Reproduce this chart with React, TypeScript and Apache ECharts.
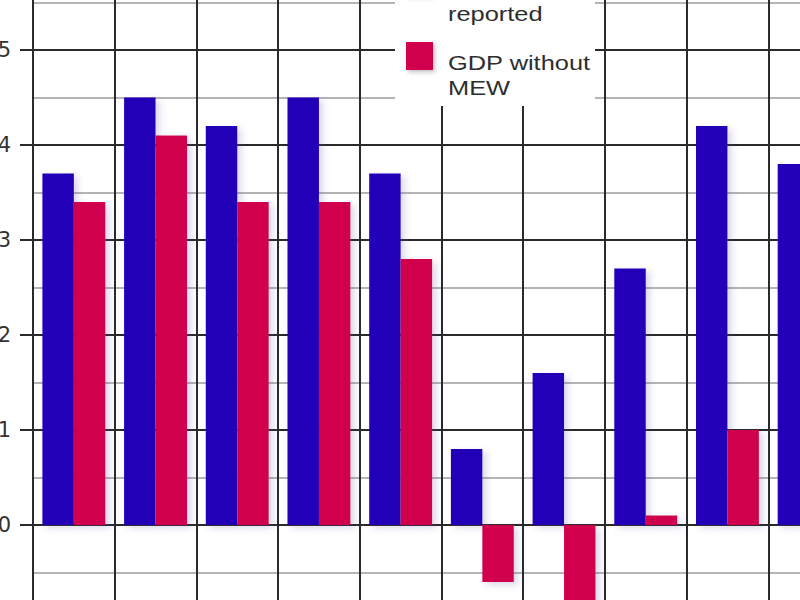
import React, { useEffect, useRef } from 'react';
import * as echarts from 'echarts';

const categories = ['1996', '1997', '1998', '1999', '2000', '2001', '2002', '2003', '2004', '2005'];
const gdpReported = [3.7, 4.5, 4.2, 4.5, 3.7, 0.8, 1.6, 2.7, 4.2, 3.8];
const gdpWithoutMew = [3.4, 4.1, 3.4, 3.4, 2.8, -0.6, -0.9, 0.1, 1.0, null];
const seriesNames = ['GDP as reported', 'GDP without MEW'];
const legendLines = [['GDP as', 'reported'], ['GDP without', 'MEW']];
const seriesColors = ['#2400b8', '#d0064e'];
const yMin = -1;
const yMax = 6;

export default function App() {
  const ref = useRef<HTMLDivElement>(null);
  useEffect(() => {
    if (!ref.current) return;
    const chart = echarts.init(ref.current, undefined, { renderer: 'svg' });
    const font = 'Liberation Sans, Arial, sans-serif';
    const barStyle = (color: string) => ({
      color,
      shadowColor: 'rgba(90,70,160,0.22)',
      shadowBlur: 6,
      shadowOffsetX: 4,
      shadowOffsetY: 3,
    });
    const legendGraphics: any[] = [
      { type: 'rect', shape: { x: 395, y: -10, width: 200, height: 116 }, style: { fill: '#ffffff' }, z: 10 },
    ];
    const itemTops = [-32, 42];
    const textTops = [-23, 51];
    legendLines.forEach((lines, i) => {
      legendGraphics.push({
        type: 'rect',
        shape: { x: 406, y: itemTops[i], width: 27, height: 28 },
        style: { fill: seriesColors[i], shadowColor: 'rgba(0,0,0,0.25)', shadowBlur: 4, shadowOffsetX: 2, shadowOffsetY: 2 },
        z: 11,
      });
      legendGraphics.push({
        type: 'text',
        x: 448,
        y: textTops[i],
        scaleX: 1.27,
        style: {
          text: lines.join('\n'),
          fill: '#2e2e2e',
          font: `20px ${font}`,
          lineHeight: 25,
          verticalAlign: 'top',
          align: 'left',
        },
        z: 11,
      });
    });
    chart.setOption({
      animation: false,
      backgroundColor: '#ffffff',
      grid: {
        left: 33,
        top: -45,
        width: 817,
        height: 665,
        containLabel: false,
        outerBoundsMode: 'none',
      },
      xAxis: {
        type: 'category',
        data: categories,
        axisLine: { show: false, onZero: false },
        axisTick: { show: false },
        axisLabel: { show: false },
        splitLine: { show: true, lineStyle: { color: '#2a2a2a', width: 2 } },
      },
      yAxis: {
        type: 'value',
        min: yMin,
        max: yMax,
        interval: 1,
        axisLine: { show: true, lineStyle: { color: '#2a2a2a', width: 2 } },
        axisTick: { show: true, length: 13, lineStyle: { color: '#2a2a2a', width: 2 } },
        axisLabel: {
          show: true,
          margin: 22,
          fontSize: 21,
          color: '#333333',
          fontFamily: 'DejaVu Sans',
          showMinLabel: false,
          showMaxLabel: false,
        },
        splitLine: { show: true, lineStyle: { color: '#2a2a2a', width: 2 } },
        minorTick: { show: false, splitNumber: 2 },
        minorSplitLine: { show: true, lineStyle: { color: '#b4b4b4', width: 2 } },
      },
      series: [
        {
          name: seriesNames[0],
          type: 'bar',
          data: gdpReported,
          barGap: '0%',
          barCategoryGap: '23%',
          itemStyle: barStyle(seriesColors[0]),
        },
        {
          name: seriesNames[1],
          type: 'bar',
          data: gdpWithoutMew,
          barGap: '0%',
          barCategoryGap: '23%',
          itemStyle: barStyle(seriesColors[1]),
        },
      ],
      graphic: legendGraphics,
    });
    return () => chart.dispose();
  }, []);
  return <div ref={ref} style={{ position: 'fixed', left: 0, top: 0, width: 800, height: 600 }} />;
}
